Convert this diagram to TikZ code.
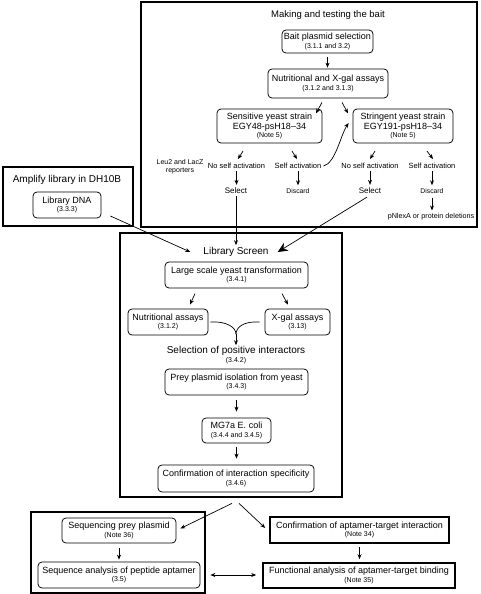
\documentclass[tikz,border=0pt]{standalone}
\usepackage{fontspec}
\setmainfont{Liberation Sans}
\usetikzlibrary{arrows.meta,calc}
\newcommand\fM{\fontsize{9}{10}\selectfont}
\newcommand\fS{\fontsize{7}{8}\selectfont}
\newcommand\fL{\fontsize{7.5}{8.5}\selectfont}
\newcommand\fD{\fontsize{6.8}{8}\selectfont}
\newcommand\fT{\fontsize{10}{12}\selectfont}
\newcommand\subl[1]{\\[-1.5pt]{\fS #1}}
\begin{document}
\begin{tikzpicture}[x=1pt,y=-1pt,
 outer/.style={draw,line width=1.6pt},
 rbox/.style={draw,rounded corners=4pt,line width=0.75pt,align=center,inner sep=0pt,font=\fM},
 sbox/.style={draw,line width=1.6pt,align=center,inner sep=0pt,font=\fM},
 lbl/.style={inner sep=1pt,font=\fL,align=center},
 dlbl/.style={inner sep=1pt,font=\fD,align=center},
 ttl/.style={inner sep=1pt,font=\fT,align=center},
 arr/.style={-{Stealth[length=5pt,width=4pt]},line width=0.7pt},
 ln/.style={line width=0.7pt}]
\useasboundingbox (0,0) rectangle (480,594);
% frames
\draw[outer] (141,2) rectangle (477,227);
\draw[outer] (3,167) rectangle (133,226);
\draw[outer] (120,233) rectangle (342,497);
\draw[outer] (31,512) rectangle (205,593);
% titles
\node[ttl,font=\fontsize{9.5}{11}\selectfont] (ttlbait) at (328,15) {Making and testing the bait};
\node[ttl] (ttlamp) at (67,180) {Amplify library in DH10B};
\node[ttl] (libtitle) at (236,252) {Library Screen};
% top boxes
\node[rbox,minimum width=91pt,minimum height=23pt] (bait) at (327.5,41.5) {Bait plasmid selection\subl{(3.1.1 and 3.2)}};
\node[rbox,minimum width=120pt,minimum height=29pt] (nutx) at (328,83.5) {Nutritional and X-gal assays\subl{(3.1.2 and 3.1.3)}};
\node[rbox,minimum width=105pt,minimum height=34pt] (sens) at (269.5,126) {Sensitive yeast strain\\EGY48-psH18--34\subl{(Note 5)}};
\node[rbox,minimum width=100pt,minimum height=34pt] (strg) at (403,126) {Stringent yeast strain\\EGY191-psH18--34\subl{(Note 5)}};
% labels
\node[lbl,font=\fontsize{7}{8}\selectfont] (leu) at (180,166.5) {Leu2 and LacZ\\reporters};
\node[lbl] (nosa1) at (236.5,166) {No self activation};
\node[lbl] (sa1) at (298,166) {Self activation};
\node[lbl] (nosa2) at (370,166) {No self activation};
\node[lbl] (sa2) at (432,166) {Self activation};
\node[lbl,font=\fontsize{8}{9}\selectfont] (select1) at (236,191) {Select};
\node[dlbl] (discard1) at (298,191) {Discard};
\node[lbl,font=\fontsize{8}{9}\selectfont] (select2) at (370,191) {Select};
\node[dlbl] (discard2) at (432,191) {Discard};
\node[lbl,font=\fontsize{7.2}{8}\selectfont] (pnlexa) at (431,217) {pNlexA or protein deletions};
% library
\node[rbox,minimum width=68pt,minimum height=26pt] (libdna) at (67,205) {Library DNA\subl{(3.3.3)}};
\node[rbox,minimum width=143pt,minimum height=26pt] (large) at (236.5,275) {Large scale yeast transformation\subl{(3.4.1)}};
\node[rbox,minimum width=80pt,minimum height=26pt] (nutass) at (168,322) {Nutritional assays\subl{(3.1.2)}};
\node[rbox,minimum width=65pt,minimum height=26pt] (xgal) at (297.5,322) {X-gal assays\subl{(3.13)}};
\node[ttl,inner sep=0pt] (sel) at (236,355) {Selection of positive interactors\\[-3.5pt]{\fS (3.4.2)}};
\node[rbox,minimum width=143pt,minimum height=26pt] (prey) at (236.5,382) {Prey plasmid isolation from yeast\subl{(3.4.3)}};
\node[rbox,minimum width=69pt,minimum height=25pt] (mg7a) at (236.5,430.5) {MG7a E. coli\subl{(3.4.4 and 3.4.5)}};
\node[rbox,minimum width=156pt,minimum height=27pt] (confspec) at (236,478.5) {Confirmation of interaction specificity\subl{(3.4.6)}};
% bottom
\node[rbox,minimum width=114pt,minimum height=25pt] (seqprey) at (119,530.5) {Sequencing prey plasmid\subl{(Note 36)}};
\node[rbox,minimum width=162pt,minimum height=26pt] (seqana) at (119,575) {Sequence analysis of peptide aptamer\subl{(3.5)}};
\node[sbox,minimum width=179pt,minimum height=26pt] (confapt) at (359.5,530) {Confirmation of aptamer-target interaction\subl{(Note 34)}};
\node[sbox,minimum width=192pt,minimum height=25pt] (func) at (359,575.5) {Functional analysis of aptamer-target binding\subl{(Note 35)}};
% arrows top
\draw[arr,shorten <=4pt,shorten >=1pt] (bait.south) -- (bait.south |- nutx.north);
\draw[arr] ($(nutx.south)+(-6,4)$) -- ($(nutx.south)+(-12,15)$);
\draw[arr] ($(nutx.south)+(14,4)$) -- ($(nutx.south)+(20,15)$);
\draw[arr] ($(nosa1.north)+(6.5,-11)$) -- ($(nosa1.north)+(1.5,-3)$);
\draw[arr] ($(sa1.north)+(-6,-11)$) -- ($(sa1.north)+(-1,-3)$);
\draw[arr] ($(nosa2.north)+(5,-11)$) -- ($(nosa2.north)+(0,-3)$);
\draw[arr] ($(sa2.north)+(-5,-11)$) -- ($(sa2.north)+(1,-3)$);
\draw[arr,shorten <=1pt,shorten >=2pt] (nosa1.south) -- (nosa1.south |- select1.north);
\draw[arr,shorten <=1pt,shorten >=2pt] (sa1.south) -- (sa1.south |- discard1.north);
\draw[arr,shorten <=1pt,shorten >=2pt] (nosa2.south) -- (nosa2.south |- select2.north);
\draw[arr,shorten <=1pt,shorten >=2pt] (sa2.south) -- (sa2.south |- discard2.north);
\draw[arr,shorten <=3pt,shorten >=2pt] (discard2.south) -- (discard2.south |- pnlexa.north);
\draw[arr] ([xshift=1pt]sa1.east) .. controls +(12,-3) and +(-8,12) .. ([shift={(-4,-3)}]strg.west);
% into library screen
\draw[arr,shorten <=1pt,shorten >=1pt] (select1.south) -- (select1.south |- libtitle.north);
\draw[-{Stealth[length=10pt,width=9pt]},ln] ([shift={(-3,2)}]select2.south) -- ([xshift=8pt]libtitle.east);
\draw[arr] ([shift={(9,11)}]libdna.east) -- ([xshift=-12pt]libtitle.west);
% library screen arrows
\draw[arr] ($(nutass.north)+(27,-15)$) -- ($(nutass.north)+(22,-4)$);
\draw[arr] ($(xgal.north)+(-15.5,-15)$) -- ($(xgal.north)+(-9.5,-4)$);
\coordinate (m) at ($(sel.north)+(0,-12)$);
\draw[ln] ([xshift=2pt]nutass.east) .. controls +(16,-1) and +(0,-7) .. (m);
\draw[ln] ([xshift=-5pt]xgal.west) .. controls +(-16,-1) and +(0,-7) .. (m);
\draw[arr,shorten >=1pt] (m) -- (sel.north);
\draw[arr,shorten <=5pt,shorten >=6pt] (prey.south) -- (prey.south |- mg7a.north);
\draw[arr,shorten <=4pt,shorten >=6pt] (mg7a.south) -- (mg7a.south |- confspec.north);
% bottom arrows
\draw[arr] ($(confspec.south)+(-4,11)$) -- ($(seqprey.east)+(4,-2)$);
\draw[arr] ($(confspec.south)+(3,11)$) -- ($(confapt.west)+(-4,-2)$);
\draw[arr,shorten <=5pt,shorten >=2pt] (seqprey.south) -- (seqprey.south |- seqana.north);
\draw[arr,shorten <=3pt,shorten >=3pt] (confapt.south) -- (confapt.south |- func.north);
\draw[{Stealth[length=5pt,width=4pt]}-{Stealth[length=5pt,width=4pt]},line width=0.7pt,shorten <=10pt,shorten >=6pt] (seqana.east) -- (seqana.east -| func.west);
\end{tikzpicture}
\end{document}
